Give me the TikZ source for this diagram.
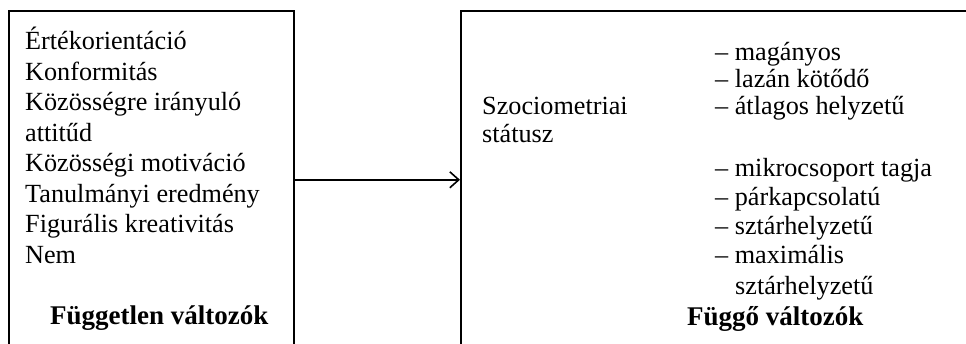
\documentclass[tikz,border=0pt]{standalone}
\usepackage{fontspec}
\setmainfont{Liberation Serif}
\usetikzlibrary{arrows.meta}
\begin{document}
\begin{tikzpicture}[x=1pt,y=-1pt,
  frame/.style={draw, line width=1.6pt, inner sep=0, anchor=north west, minimum height=338pt},
  txt/.style={anchor=base west, inner sep=0, font=\fontsize{26.2}{30.5}\selectfont},
  bold txt/.style={txt, font=\fontsize{27}{30.5}\selectfont\bfseries},
  conn/.style={line width=1.6pt, -{Straight Barb[length=9pt,width=16pt,line width=1.6pt]}}]
\useasboundingbox (0,0) rectangle (966,344);
\clip (0,0) rectangle (966,344);
\node[frame, minimum width=285pt] (leftbox) at (8,10) {};
\node[frame, minimum width=540pt] (rightbox) at (460,10) {};
% left texts
\node[txt] (l1) at (25,50) {Értékorientáció};
\node[txt] (l2) at (25,80.5) {Konformitás};
\node[txt] (l3) at (25,111) {Közösségre irányuló};
\node[txt] (l4) at (25,141.5) {attitűd};
\node[txt] (l5) at (25,172) {Közösségi motiváció};
\node[txt] (l6) at (25,202.5) {Tanulmányi eredmény};
\node[txt] (l7) at (25,233) {Figurális kreativitás};
\node[txt] (l8) at (25,263.5) {Nem};
\node[bold txt] (lh) at (50,325) {Független változók};
% right texts
\node[txt] (s1) at (482,115) {Szociometriai};
\node[txt] (s2) at (482,143) {státusz};
\node[txt] (r1) at (715,61) {– magányos};
\node[txt] (r2) at (715,88) {– lazán kötődő};
\node[txt] (r3) at (715,115) {– átlagos helyzetű};
\node[txt] (r4) at (715,177) {– mikrocsoport tagja};
\node[txt] (r5) at (715,206) {– párkapcsolatú};
\node[txt] (r6) at (715,235) {– sztárhelyzetű};
\node[txt] (r7) at (715,264) {– maximális};
\node[txt] (r8) at (735,295) {sztárhelyzetű};
\node[bold txt] (rh) at (687,325.5) {Függő változók};
% connector
\draw[conn] (leftbox.east) -- (rightbox.west);
\end{tikzpicture}
\end{document}
